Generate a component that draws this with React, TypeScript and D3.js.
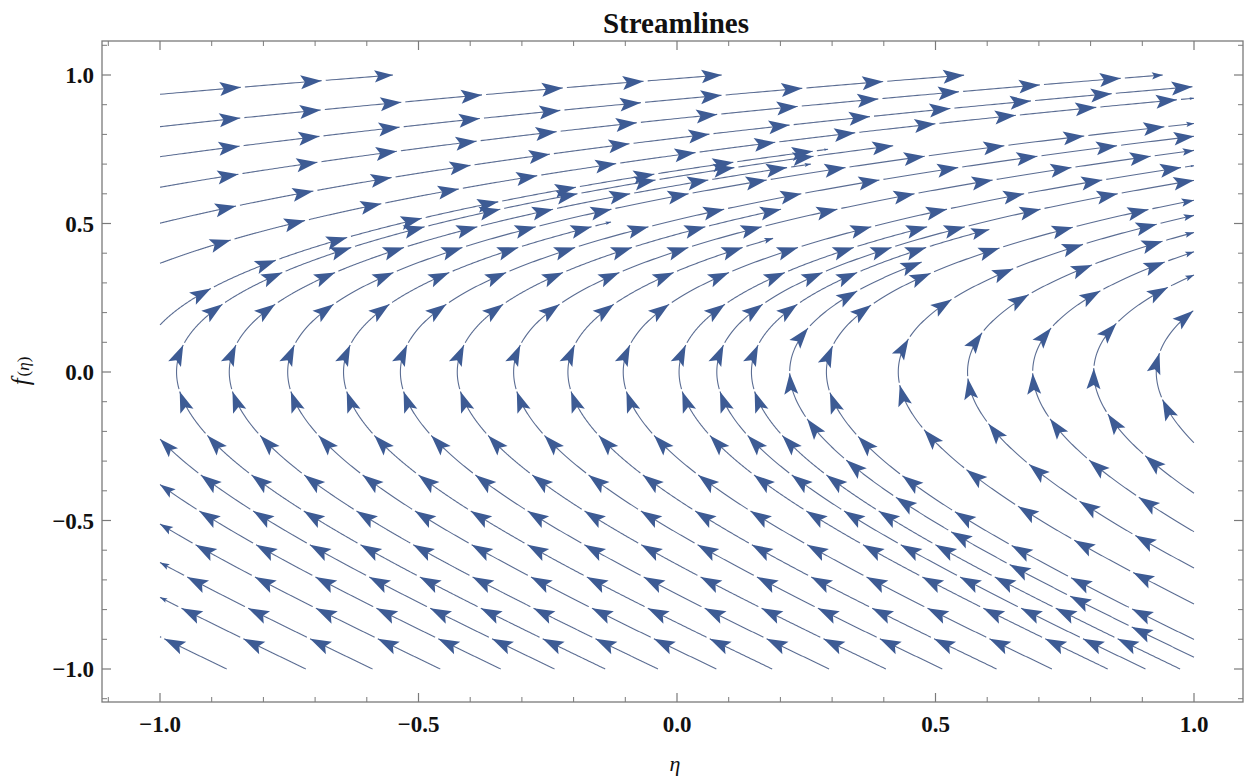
import React from 'react';
import * as d3 from 'd3';

// ---- field: dη/dt = K·f·exp(A·f), df/dt = 1  (streamline shape η = c + Φ(f))
const FIELD_K = 2.97;
const FIELD_A = 0.91;

// ---- streamlines: offset c (η where f = 0), and f-range before clipping to the box
const lineOffsets = [
  // lower-left lines (end on the left edge)
  -1.7, -1.547, -1.418, -1.287, -1.17, -1.066,
  // curves turning at f = 0
  -0.968, -0.866, -0.753, -0.645, -0.535, -0.425, -0.316, -0.211, -0.104,
  0.004, 0.077, 0.144, 0.218, 0.289, 0.428, 0.562, 0.688, 0.806, 0.927,
  // upper-left lines (start on the left edge)
  -1.041, -1.249, -1.508, -1.845, -2.226, -2.698, -3.334,
];
const lineFStart = [
  -1, -1, -1, -1, -1, -1,
  -1, -1, -1, -1, -1, -1, -1, -1, -1,
  -1, -1, -1, -1, -1, -1, -1, -1, -1, -1,
  0, 0, 0, 0, 0, 0, 0,
];
const lineFEnd = [
  0, 0, 0, 0, 0, 0,
  0.763, 0.7, 1, 0.505, 1, 0.55, 1, 0.45, 1,
  0.49, 1, 0.48, 0.37, 1, 1, 1, 1, 1, 1,
  0.75, 1, 1, 1, 1, 1, 1,
];

const xMajor = [-1, -0.5, 0, 0.5, 1];
const yMajor = [-1, -0.5, 0, 0.5, 1];
const xMinor = [-1.1, -0.9, -0.8, -0.7, -0.6, -0.4, -0.3, -0.2, -0.1, 0.1, 0.2, 0.3, 0.4, 0.6, 0.7, 0.8, 0.9];
const yMinor = [-1.1, -0.9, -0.8, -0.7, -0.6, -0.4, -0.3, -0.2, -0.1, 0.1, 0.2, 0.3, 0.4, 0.6, 0.7, 0.8, 0.9, 1.1];
const tickLabels = ['\u22121.0', '\u22120.5', '0.0', '0.5', '1.0'];

const title = 'Streamlines';

const W = 1250;
const H = 778;
const frame = { left: 102, right: 1243, top: 41, bottom: 702 };
const x = d3.scaleLinear().domain([-1, 1]).range([160, 1194]);
const y = d3.scaleLinear().domain([-1, 1]).range([669, 75]);

const LINE_COLOR = '#5b6d93';
const ARROW_COLOR = '#3d5b94';
const SEG = 0.079; // segment length in plot-range units
const GAP = 0.004;
const AL = 21;
const AW = 14;

function phi(f: number) {
  const a = FIELD_A;
  return (FIELD_K / (a * a)) * (Math.exp(a * f) * (a * f - 1) + 1);
}

type P = { px: number; py: number; s: number };

function buildLine(c: number, f0: number, f1: number): P[] {
  const n = 800;
  const raw: { X: number; Y: number }[] = [];
  for (let i = 0; i <= n; i++) {
    const f = f0 + ((f1 - f0) * i) / n;
    raw.push({ X: c + phi(f), Y: f });
  }
  const inside = (p: { X: number }) => p.X >= -1 && p.X <= 1;
  const pts: { X: number; Y: number }[] = [];
  let started = false;
  for (let i = 0; i < raw.length; i++) {
    const p = raw[i];
    if (inside(p)) {
      if (!started && i > 0) {
        const q = raw[i - 1];
        const bx = q.X < -1 ? -1 : 1;
        const t = (bx - q.X) / (p.X - q.X);
        pts.push({ X: bx, Y: q.Y + t * (p.Y - q.Y) });
      }
      started = true;
      pts.push(p);
    } else if (started) {
      const q = raw[i - 1];
      const bx = p.X < -1 ? -1 : 1;
      const t = (bx - q.X) / (p.X - q.X);
      pts.push({ X: bx, Y: q.Y + t * (p.Y - q.Y) });
      break;
    }
  }
  const out: P[] = [];
  let s = 0;
  pts.forEach((p, i) => {
    const px = x(p.X);
    const py = y(p.Y);
    if (i > 0) {
      const prev = out[i - 1];
      s += Math.hypot((px - prev.px) / 1034, (py - prev.py) / 594);
    }
    out.push({ px, py, s });
  });
  return out;
}

function sub(line: P[], a: number, b: number): [number, number][] {
  const res: [number, number][] = [];
  const at = (s: number): [number, number] => {
    for (let i = 1; i < line.length; i++) {
      if (line[i].s >= s) {
        const p = line[i - 1];
        const q = line[i];
        const t = q.s === p.s ? 0 : (s - p.s) / (q.s - p.s);
        return [p.px + t * (q.px - p.px), p.py + t * (q.py - p.py)];
      }
    }
    const l = line[line.length - 1];
    return [l.px, l.py];
  };
  res.push(at(a));
  for (const p of line) if (p.s > a && p.s < b) res.push([p.px, p.py]);
  res.push(at(b));
  return res;
}

export default function App() {
  const lineGen = d3.line();
  const paths: string[] = [];
  const arrows: string[] = [];
  lineOffsets.forEach((c, i) => {
    const line = buildLine(c, lineFStart[i], lineFEnd[i]);
    if (line.length < 2) return;
    const total = line[line.length - 1].s;
    for (let k = 0; k * SEG < total; k++) {
      const s0 = k * SEG;
      const s1 = Math.min((k + 1) * SEG, total);
      const len = s1 - s0;
      if (len < 0.004) continue;
      const a = k === 0 ? s0 : s0 + GAP;
      if (s1 <= a) continue;
      const pts = sub(line, a, s1);
      paths.push(lineGen(pts) || '');
      const sc = len / SEG;
      const tip = pts[pts.length - 1];
      const back = sub(line, Math.max(a, s1 - 0.01), s1)[0];
      let dx = tip[0] - back[0];
      let dy = tip[1] - back[1];
      const dl = Math.hypot(dx, dy) || 1;
      dx /= dl;
      dy /= dl;
      const nx = -dy;
      const ny = dx;
      const al = AL * sc;
      const aw = AW * sc;
      const p1 = [tip[0] - dx * al + nx * aw / 2, tip[1] - dy * al + ny * aw / 2];
      const p2 = [tip[0] - dx * al * 0.8, tip[1] - dy * al * 0.8];
      const p3 = [tip[0] - dx * al - nx * aw / 2, tip[1] - dy * al - ny * aw / 2];
      arrows.push(`M${tip[0]},${tip[1]}L${p1[0]},${p1[1]}L${p2[0]},${p2[1]}L${p3[0]},${p3[1]}Z`);
    }
  });

  const serif = '"Liberation Serif", "Times New Roman", serif';
  const majorLen = 9;
  const minorLen = 5;

  return (
    <svg width={W} height={H} style={{ position: 'absolute', left: 0, top: 0, background: '#fff' }}>
      <rect x={0} y={0} width={W} height={H} fill="#fff" />
      <g>
        {paths.map((d, i) => (
          <path key={'l' + i} d={d} fill="none" stroke={LINE_COLOR} strokeWidth={1.1} />
        ))}
        {arrows.map((d, i) => (
          <path key={'a' + i} d={d} fill={ARROW_COLOR} stroke="none" />
        ))}
      </g>
      <rect x={frame.left} y={frame.top} width={frame.right - frame.left} height={frame.bottom - frame.top}
        fill="none" stroke="#7a7a7a" strokeWidth={1.3} />
      {xMajor.map((v) => (
        <g key={'xm' + v}>
          <line x1={x(v)} x2={x(v)} y1={frame.bottom} y2={frame.bottom - majorLen} stroke="#7a7a7a" strokeWidth={1.2} />
          <line x1={x(v)} x2={x(v)} y1={frame.top} y2={frame.top + majorLen} stroke="#7a7a7a" strokeWidth={1.2} />
        </g>
      ))}
      {xMinor.map((v) => (
        <g key={'xn' + v}>
          <line x1={x(v)} x2={x(v)} y1={frame.bottom} y2={frame.bottom - minorLen} stroke="#7a7a7a" strokeWidth={1} />
          <line x1={x(v)} x2={x(v)} y1={frame.top} y2={frame.top + minorLen} stroke="#7a7a7a" strokeWidth={1} />
        </g>
      ))}
      {yMajor.map((v) => (
        <g key={'ym' + v}>
          <line x1={frame.left} x2={frame.left + majorLen} y1={y(v)} y2={y(v)} stroke="#7a7a7a" strokeWidth={1.2} />
          <line x1={frame.right} x2={frame.right - majorLen} y1={y(v)} y2={y(v)} stroke="#7a7a7a" strokeWidth={1.2} />
        </g>
      ))}
      {yMinor.map((v) => (
        <g key={'yn' + v}>
          <line x1={frame.left} x2={frame.left + minorLen} y1={y(v)} y2={y(v)} stroke="#7a7a7a" strokeWidth={1} />
          <line x1={frame.right} x2={frame.right - minorLen} y1={y(v)} y2={y(v)} stroke="#7a7a7a" strokeWidth={1} />
        </g>
      ))}
      {xMajor.map((v, i) => (
        <text key={'xl' + v} x={x(v)} y={732} textAnchor="middle" fontFamily={serif} fontWeight="bold" fontSize={23} fill="#111">
          {tickLabels[i]}
        </text>
      ))}
      {yMajor.map((v, i) => (
        <text key={'yl' + v} x={94} y={y(v) + 8} textAnchor="end" fontFamily={serif} fontWeight="bold" fontSize={23} fill="#111">
          {tickLabels[i]}
        </text>
      ))}
      <text x={676} y={33} textAnchor="middle" fontFamily={serif} fontWeight="bold" fontSize={29} fill="#111">
        {title}
      </text>
      <text x={675} y={771} textAnchor="middle" fontFamily={serif} fontStyle="italic" fontSize={22} fill="#111">
        η
      </text>
      <text transform="translate(29,371) rotate(-90)" textAnchor="middle" fontFamily={serif} fontStyle="italic" fill="#111">
        <tspan fontSize={25}>f</tspan>
        <tspan fontSize={17} fontStyle="normal" dx={2}>(</tspan>
        <tspan fontSize={17}>η</tspan>
        <tspan fontSize={17} fontStyle="normal">)</tspan>
      </text>
    </svg>
  );
}
